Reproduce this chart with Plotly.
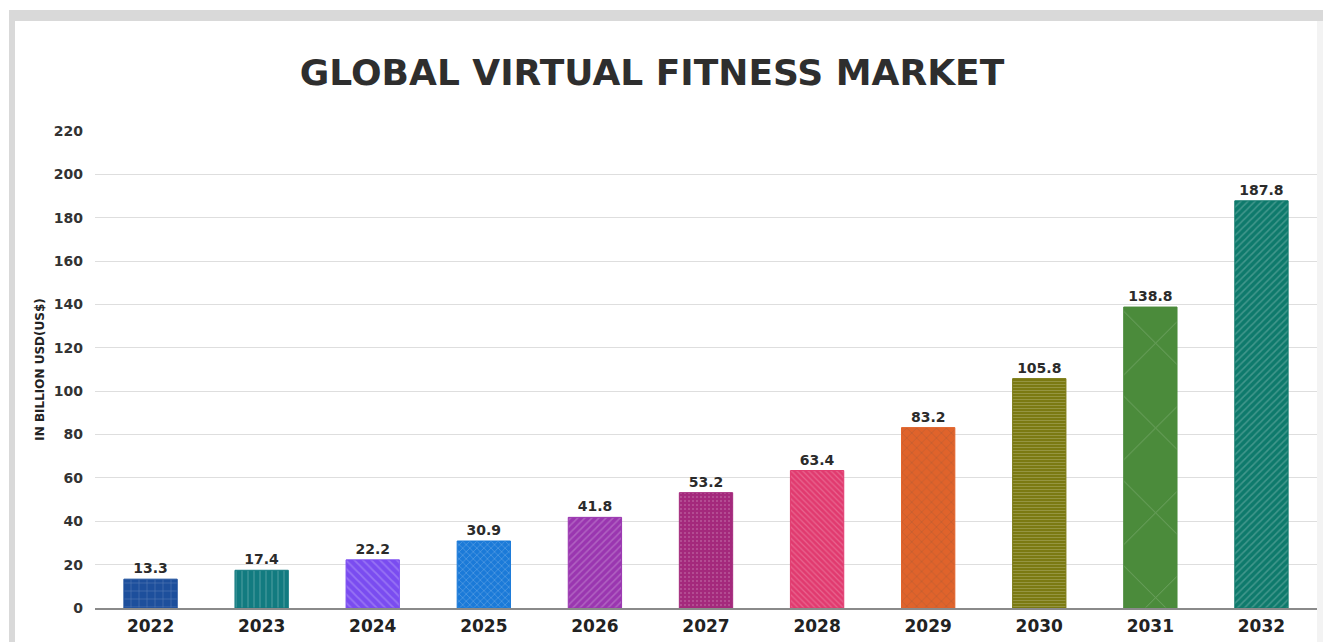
import plotly.graph_objects as go

# Market size by year (billion USD)
years = ["2022", "2023", "2024", "2025", "2026", "2027", "2028", "2029", "2030", "2031", "2032"]
values = [13.3, 17.4, 22.2, 30.9, 41.8, 53.2, 63.4, 83.2, 105.8, 138.8, 187.8]
y_ticks = [0, 20, 40, 60, 80, 100, 120, 140, 160, 180, 200, 220]

# Per-bar fill colour and texture
bar_colors = ["#1d4f9c", "#127b80", "#7a4cf0", "#1b7ad8", "#9a36b0", "#a4297c",
              "#e13a6f", "#e0632b", "#7b7a12", "#4b8b3b", "#0e7a6c"]
pattern_shapes = ["+", "|", "\\", "x", "/", ".", "\\", "x", "-", "x", "/"]
pattern_fg = ["#6f9be0", "#48b4b8", "#a98ef8", "#6ab0f0", "#c57ad6", "#cc5aa4",
              "#f27ba0", "#a94010", "#a8a83a", "#2f6a24", "#34a493"]
pattern_size = [8, 6, 6, 5, 5, 4, 4, 7, 3, 60, 5]
pattern_solidity = [0.15, 0.2, 0.3, 0.3, 0.3, 0.2, 0.3, 0.2, 0.3, 0.03, 0.3]

W, H = 1323, 642
ML, MR, MT, MB = 95, 6, 131, 34
PW, PH = W - ML - MR, H - MT - MB
FONT = "DejaVu Sans"


def px_x(x):
    return (x - ML) / PW


def px_y(y):
    return (H - MB - y) / PH


fig = go.Figure(
    go.Bar(
        x=years,
        y=values,
        marker=dict(
            color=bar_colors,
            line=dict(color=bar_colors, width=1),
            pattern=dict(
                shape=pattern_shapes,
                fgcolor=pattern_fg,
                fgopacity=0.22,
                size=pattern_size,
                solidity=pattern_solidity,
            ),
        ),
        text=[f"{v:.1f}" for v in values],
        textposition="outside",
        textfont=dict(family=FONT, size=14, color="#2b2b2b", weight="bold"),
        cliponaxis=False,
        width=0.48,
        hoverinfo="x+y",
    )
)

# Outer frame: grey band along the top and left edge
frame = "#d9d9d9"
shapes = [
    dict(type="rect", xref="paper", yref="paper", layer="below",
         x0=px_x(9), x1=px_x(W), y0=px_y(10), y1=px_y(21),
         fillcolor=frame, line=dict(width=0)),
    dict(type="rect", xref="paper", yref="paper", layer="below",
         x0=px_x(9), x1=px_x(15), y0=px_y(10), y1=px_y(H),
         fillcolor=frame, line=dict(width=0)),
    dict(type="rect", xref="paper", yref="paper", layer="below",
         x0=px_x(1317), x1=px_x(W), y0=px_y(21), y1=px_y(H),
         fillcolor="#f3f3f3", line=dict(width=0)),
]

fig.update_layout(
    width=W,
    height=H,
    margin=dict(l=ML, r=MR, t=MT, b=MB, pad=0),
    paper_bgcolor="white",
    plot_bgcolor="white",
    showlegend=False,
    shapes=shapes,
    title=dict(
        text="GLOBAL VIRTUAL FITNESS MARKET",
        font=dict(family=FONT, size=36, color="#2e2e2e", weight="bold"),
        xref="container", x=652 / W, xanchor="center",
        yref="container", y=1 - 72 / H, yanchor="middle",
    ),
    xaxis=dict(
        type="category",
        range=[-0.5, len(years) - 0.5],
        showgrid=False,
        showline=True,
        linecolor="#8a8a8a",
        linewidth=1.5,
        ticks="",
        tickfont=dict(family=FONT, size=17, color="#222222", weight="bold"),
        ticklabelstandoff=2,
    ),
    yaxis=dict(
        range=[0, 220],
        tickvals=y_ticks,
        showgrid=True,
        gridcolor="#dedede",
        gridwidth=1,
        zeroline=False,
        showline=False,
        ticks="",
        ticklabelstandoff=11,
        tickfont=dict(family=FONT, size=14, color="#333333", weight="bold"),
        title=dict(
            text="IN BILLION USD(US$)",
            font=dict(family=FONT, size=12, color="#222222", weight="bold"),
            standoff=6,
        ),
    ),
)

fig.write_html("out.html")
